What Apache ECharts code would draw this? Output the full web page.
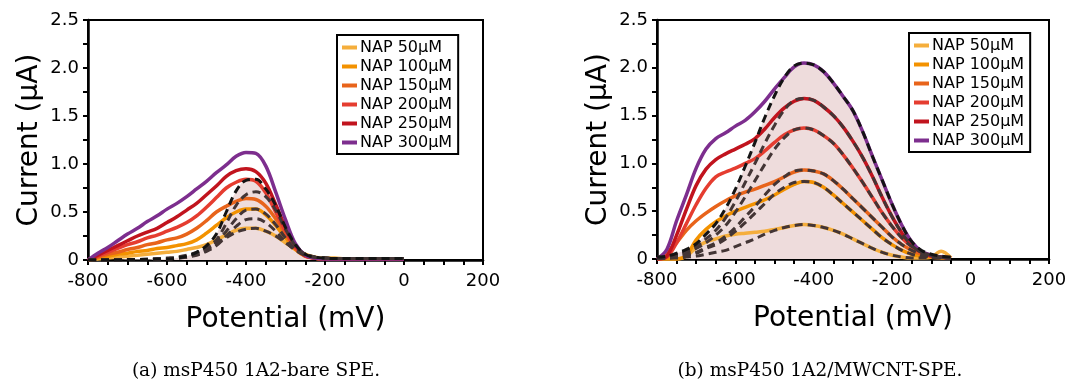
<!DOCTYPE html>
<html>
<head>
<meta charset="utf-8">
<script src="https://cdn.jsdelivr.net/npm/echarts@6/dist/echarts.min.js"></script>
<style>
  html, body { margin: 0; padding: 0; background: #fff; }
  #chart { width: 1070px; height: 380px; }
</style>
</head>
<body>
<div id="chart"></div>
<script>
// ---- Potential grids (mV) ----
const bareV = [-800,-775,-750,-725,-700,-675,-650,-625,-600,-575,-550,-525,-500,-475,-450,-425,-400,-375,-350,-325,-300,-275,-250,-225,-200,-175,-150,-125,-100,-75,-50,-25,0];
const cntV  = [-800,-775,-750,-725,-700,-675,-650,-625,-600,-575,-550,-525,-500,-475,-450,-425,-400,-375,-350,-325,-300,-275,-250,-225,-200,-175,-150,-125,-100,-75,-50];

// ---- Legend / series labels ----
const napNames = ['NAP 50µM','NAP 100µM','NAP 150µM','NAP 200µM','NAP 250µM','NAP 300µM'];

// ---- Axis tick labels ----
const xTickLabels = ['-800','-600','-400','-200','0','200'];
const yTickLabels = ['0','0.5','1.0','1.5','2.0','2.5'];

// ---- (a) bare SPE: measured currents (µA) ----
const bare50  = [0,0.01,0.02,0.03,0.04,0.05,0.06,0.07,0.08,0.09,0.11,0.13,0.16,0.21,0.26,0.31,0.33,0.33,0.30,0.25,0.18,0.11,0.06,0.03,0.02,0.02,0.01,0.01,0.01,0.01,0.01,0.01,0.01];
const bare100 = [0,0.02,0.04,0.06,0.07,0.09,0.10,0.12,0.13,0.15,0.17,0.21,0.28,0.36,0.44,0.50,0.53,0.53,0.47,0.36,0.23,0.11,0.04,0.02,0.01,0.01,0.01,0.01,0.01,0.01,0.01,0.01,0.01];
const bare150 = [0,0.03,0.06,0.08,0.11,0.13,0.16,0.18,0.21,0.23,0.27,0.33,0.41,0.50,0.56,0.61,0.64,0.63,0.56,0.43,0.27,0.12,0.04,0.02,0.01,0.01,0.01,0.01,0.01,0.01,0.01,0.01,0.01];
const bare200 = [0,0.04,0.08,0.12,0.16,0.19,0.23,0.26,0.30,0.34,0.39,0.46,0.55,0.65,0.75,0.81,0.84,0.82,0.70,0.50,0.30,0.13,0.04,0.02,0.01,0.01,0.01,0.01,0.01,0.01,0.01,0.01,0.01];
const bare250 = [0,0.05,0.10,0.15,0.20,0.25,0.29,0.33,0.39,0.45,0.52,0.59,0.68,0.77,0.87,0.93,0.95,0.92,0.80,0.58,0.34,0.15,0.05,0.02,0.01,0.01,0.01,0.01,0.01,0.01,0.01,0.01,0.01];
const bare300 = [0,0.07,0.13,0.20,0.27,0.33,0.40,0.46,0.53,0.59,0.66,0.74,0.82,0.91,0.99,1.08,1.12,1.11,0.98,0.71,0.42,0.17,0.05,0.02,0.01,0.01,0.01,0.01,0.01,0.01,0.01,0.01,0.01];

// ---- (a) bare SPE: peak fits (µA) ----
const bareFitTop = [0,0,0,0,0.005,0.005,0.005,0.01,0.01,0.02,0.04,0.08,0.15,0.27,0.50,0.72,0.83,0.84,0.74,0.57,0.34,0.16,0.06,0.03,0.02,0.015,0.015,0.015,0.015,0.015,0.015,0.015,0.015];
const bareFitB = [0,0,0,0,0.005,0.005,0.005,0.01,0.01,0.02,0.03,0.07,0.12,0.21,0.38,0.57,0.68,0.71,0.66,0.52,0.32,0.15,0.06,0.03,0.02,0.015,0.015,0.015,0.015,0.015,0.015,0.015,0.015];
const bareFitC = [0,0,0,0,0.005,0.005,0.005,0.01,0.01,0.02,0.03,0.06,0.10,0.18,0.30,0.43,0.52,0.53,0.48,0.37,0.23,0.11,0.05,0.03,0.02,0.015,0.015,0.015,0.015,0.015,0.015,0.015,0.015];
const bareFitD = [0,0,0,0,0.005,0.005,0.005,0.01,0.01,0.02,0.03,0.05,0.09,0.15,0.25,0.35,0.42,0.43,0.39,0.30,0.19,0.10,0.05,0.03,0.02,0.015,0.015,0.015,0.015,0.015,0.015,0.015,0.015];
const bareFitE = [0,0,0,0,0.005,0.005,0.01,0.01,0.02,0.03,0.05,0.08,0.12,0.17,0.23,0.29,0.32,0.33,0.30,0.25,0.18,0.11,0.06,0.03,0.02,0.015,0.015,0.015,0.015,0.015,0.015,0.015,0.015];

// ---- (b) MWCNT-SPE: measured currents (µA) ----
const cnt50  = [0,0,0,0.03,0.12,0.18,0.21,0.24,0.26,0.27,0.28,0.29,0.31,0.33,0.35,0.36,0.35,0.33,0.30,0.26,0.21,0.16,0.11,0.07,0.04,0.02,0.01,0.01,0.02,0.08,0.01];
const cnt100 = [0,0,0,0.04,0.20,0.31,0.39,0.45,0.50,0.54,0.58,0.62,0.67,0.73,0.78,0.81,0.80,0.75,0.67,0.58,0.49,0.40,0.31,0.22,0.15,0.09,0.05,0.03,0.02,0.01,0.01];
const cnt150 = [0,0.07,0.17,0.30,0.40,0.48,0.55,0.61,0.66,0.70,0.73,0.77,0.81,0.86,0.91,0.93,0.92,0.89,0.82,0.73,0.63,0.53,0.43,0.33,0.23,0.15,0.09,0.05,0.03,0.02,0.01];
const cnt200 = [0,0.02,0.17,0.37,0.57,0.74,0.86,0.91,0.95,1.00,1.05,1.13,1.22,1.30,1.35,1.37,1.35,1.29,1.21,1.09,0.95,0.80,0.64,0.48,0.34,0.22,0.13,0.07,0.03,0.02,0.01];
const cnt250 = [0,0.03,0.25,0.52,0.77,0.94,1.04,1.10,1.15,1.20,1.26,1.36,1.48,1.58,1.65,1.68,1.66,1.59,1.50,1.38,1.23,1.06,0.86,0.64,0.44,0.27,0.14,0.07,0.03,0.02,0.01];
const cnt300 = [0,0.10,0.40,0.67,0.95,1.15,1.26,1.32,1.39,1.45,1.54,1.65,1.78,1.90,2.01,2.05,2.03,1.96,1.84,1.70,1.55,1.33,1.07,0.82,0.57,0.35,0.18,0.08,0.04,0.02,0.01];

// ---- (b) MWCNT-SPE: peak fits (µA) ----
const cntFit50  = [0,0.01,0.01,0.02,0.03,0.05,0.07,0.09,0.13,0.17,0.21,0.26,0.30,0.33,0.35,0.36,0.35,0.33,0.30,0.26,0.21,0.16,0.11,0.07,0.04,0.02,0.01,0.01,0.01,0.01,0.01];
const cntFit100 = [0.01,0.01,0.02,0.04,0.06,0.11,0.15,0.21,0.29,0.38,0.48,0.58,0.68,0.75,0.80,0.81,0.80,0.75,0.67,0.58,0.49,0.40,0.31,0.22,0.15,0.09,0.05,0.03,0.02,0.01,0.01];
const cntFit150 = [0.01,0.01,0.03,0.05,0.07,0.12,0.17,0.24,0.33,0.44,0.55,0.67,0.78,0.86,0.92,0.93,0.92,0.89,0.82,0.73,0.63,0.53,0.43,0.33,0.23,0.15,0.09,0.05,0.03,0.02,0.01];
const cntFit200 = [0.01,0.02,0.04,0.07,0.11,0.17,0.25,0.35,0.49,0.65,0.82,0.99,1.15,1.27,1.35,1.37,1.35,1.29,1.21,1.09,0.95,0.80,0.64,0.48,0.34,0.22,0.13,0.07,0.04,0.02,0.01];
const cntFit250 = [0.02,0.02,0.05,0.08,0.13,0.21,0.30,0.43,0.60,0.80,1.00,1.21,1.40,1.56,1.66,1.68,1.66,1.59,1.50,1.38,1.23,1.06,0.86,0.64,0.44,0.27,0.14,0.07,0.04,0.02,0.01];
const cntFit300 = [0.02,0.03,0.06,0.10,0.16,0.26,0.37,0.53,0.73,0.97,1.22,1.48,1.71,1.90,2.02,2.05,2.03,1.96,1.84,1.70,1.55,1.33,1.07,0.82,0.57,0.35,0.18,0.09,0.05,0.03,0.02];

// ---- Styling ----
const napColors = ['#F5AE3C','#F39200','#E8641B','#E53D30','#C1141E','#7D2E8E'];
const fitBlack = '#141414';
const fitGray = '#433535';
const fillPink = '#EEDCDC';
const uiFont = '"DejaVu Sans", sans-serif';

function pairs(xs, ys) { return xs.map((x, i) => [x, ys[i]]); }

function solid(name, xs, ys, color, g) {
  return {
    type: 'line', name, xAxisIndex: g, yAxisIndex: g,
    data: pairs(xs, ys), smooth: 0.35, showSymbol: false, z: 3,
    lineStyle: { color, width: 3.5 }, itemStyle: { color }
  };
}
function fit(name, xs, ys, color, g) {
  return {
    type: 'line', name, xAxisIndex: g, yAxisIndex: g,
    data: pairs(xs, ys), smooth: 0.35, showSymbol: false, z: 4,
    lineStyle: { color, width: 3, type: [8, 5] }, itemStyle: { color }
  };
}
function fillUnder(name, xs, ys, g) {
  return {
    type: 'line', name, xAxisIndex: g, yAxisIndex: g,
    data: pairs(xs, ys), smooth: 0.35, showSymbol: false, z: 1,
    lineStyle: { width: 0 }, areaStyle: { color: fillPink, opacity: 1 }
  };
}

function xAxisFor(g) {
  return {
    type: 'value', gridIndex: g, min: -800, max: 200, interval: 200,
    name: 'Potential (mV)', nameLocation: 'middle', nameGap: 46,
    nameTextStyle: { fontFamily: uiFont, fontSize: 28, color: '#000' },
    axisLine: { onZero: false, lineStyle: { color: '#000', width: 2.5 } },
    axisTick: { show: true, inside: false, length: 5, lineStyle: { color: '#000', width: 2 } },
    minorTick: { show: true, splitNumber: 4, length: 5, lineStyle: { color: '#000', width: 2 } },
    splitLine: { show: false },
    axisLabel: {
      fontFamily: uiFont, fontSize: 18, color: '#000', margin: 12,
      formatter: (v, i) => xTickLabels[i]
    }
  };
}
function yAxisFor(g) {
  return {
    type: 'value', gridIndex: g, min: 0, max: 2.5, interval: 0.5,
    name: 'Current (µA)', nameLocation: 'middle', nameGap: 44,
    nameTextStyle: { fontFamily: uiFont, fontSize: 28, color: '#000' },
    axisLine: { show: true, onZero: false, lineStyle: { color: '#000', width: 2.5 } },
    axisTick: { show: true, inside: false, length: 5, lineStyle: { color: '#000', width: 2 } },
    minorTick: { show: true, splitNumber: 2, length: 5, lineStyle: { color: '#000', width: 2 } },
    splitLine: { show: false },
    axisLabel: {
      fontFamily: uiFont, fontSize: 18, color: '#000', margin: 9,
      formatter: (v, i) => yTickLabels[i]
    }
  };
}
function legendFor(left, top) {
  return {
    data: napNames, orient: 'vertical', left, top,
    icon: 'rect', itemWidth: 15, itemHeight: 4, itemGap: 2,
    padding: [4, 6, 3, 5], borderColor: '#000', borderWidth: 2,
    backgroundColor: '#fff', selectedMode: false,
    textStyle: { fontFamily: uiFont, fontSize: 16, color: '#000', lineHeight: 17, padding: [0, 0, 0, -2] }
  };
}

const bareSets = [bare50, bare100, bare150, bare200, bare250, bare300];
const cntSets = [cnt50, cnt100, cnt150, cnt200, cnt250, cnt300];

const series = [];
// (a) bare SPE
series.push(fillUnder('bare envelope', bareV, bareFitTop, 0));
bareSets.forEach((ys, i) => series.push(solid(napNames[i], bareV, ys, napColors[i], 0)));
series.push(fit('bare fit E', bareV, bareFitE, fitGray, 0));
series.push(fit('bare fit D', bareV, bareFitD, fitGray, 0));
series.push(fit('bare fit C', bareV, bareFitC, fitGray, 0));
series.push(fit('bare fit B', bareV, bareFitB, fitGray, 0));
series.push(fit('bare fit top', bareV, bareFitTop, fitBlack, 0));
// (b) MWCNT-SPE
series.push(fillUnder('cnt envelope', cntV, cntFit300, 1));
cntSets.forEach((ys, i) => series.push(solid(napNames[i], cntV, ys, napColors[i], 1)));
series.push(fit('cnt fit 50', cntV, cntFit50, fitGray, 1));
series.push(fit('cnt fit 100', cntV, cntFit100, fitGray, 1));
series.push(fit('cnt fit 150', cntV, cntFit150, fitGray, 1));
series.push(fit('cnt fit 200', cntV, cntFit200, fitGray, 1));
series.push(fit('cnt fit 250', cntV, cntFit250, fitGray, 1));
series.push(fit('cnt fit 300', cntV, cntFit300, fitBlack, 1));

const chart = echarts.init(document.getElementById('chart'), null, { renderer: 'canvas' });
chart.setOption({
  animation: false,
  backgroundColor: '#fff',
  grid: [
    { left: 88, top: 20, width: 395, height: 240, show: true, borderColor: '#000', borderWidth: 2, backgroundColor: 'transparent' },
    { left: 657, top: 20, width: 392, height: 239, show: true, borderColor: '#000', borderWidth: 2, backgroundColor: 'transparent' }
  ],
  xAxis: [xAxisFor(0), xAxisFor(1)],
  yAxis: [yAxisFor(0), yAxisFor(1)],
  legend: [legendFor(337, 35), legendFor(909, 33)],
  graphic: [
    { type: 'text', x: 256, y: 362, style: { text: '(a) msP450 1A2-bare SPE.', font: '18.5px "DejaVu Serif", serif', fill: '#000', textAlign: 'center' } },
    { type: 'text', x: 820, y: 362, style: { text: '(b) msP450 1A2/MWCNT-SPE.', font: '18.5px "DejaVu Serif", serif', fill: '#000', textAlign: 'center' } }
  ],
  series
});
</script>
</body>
</html>
